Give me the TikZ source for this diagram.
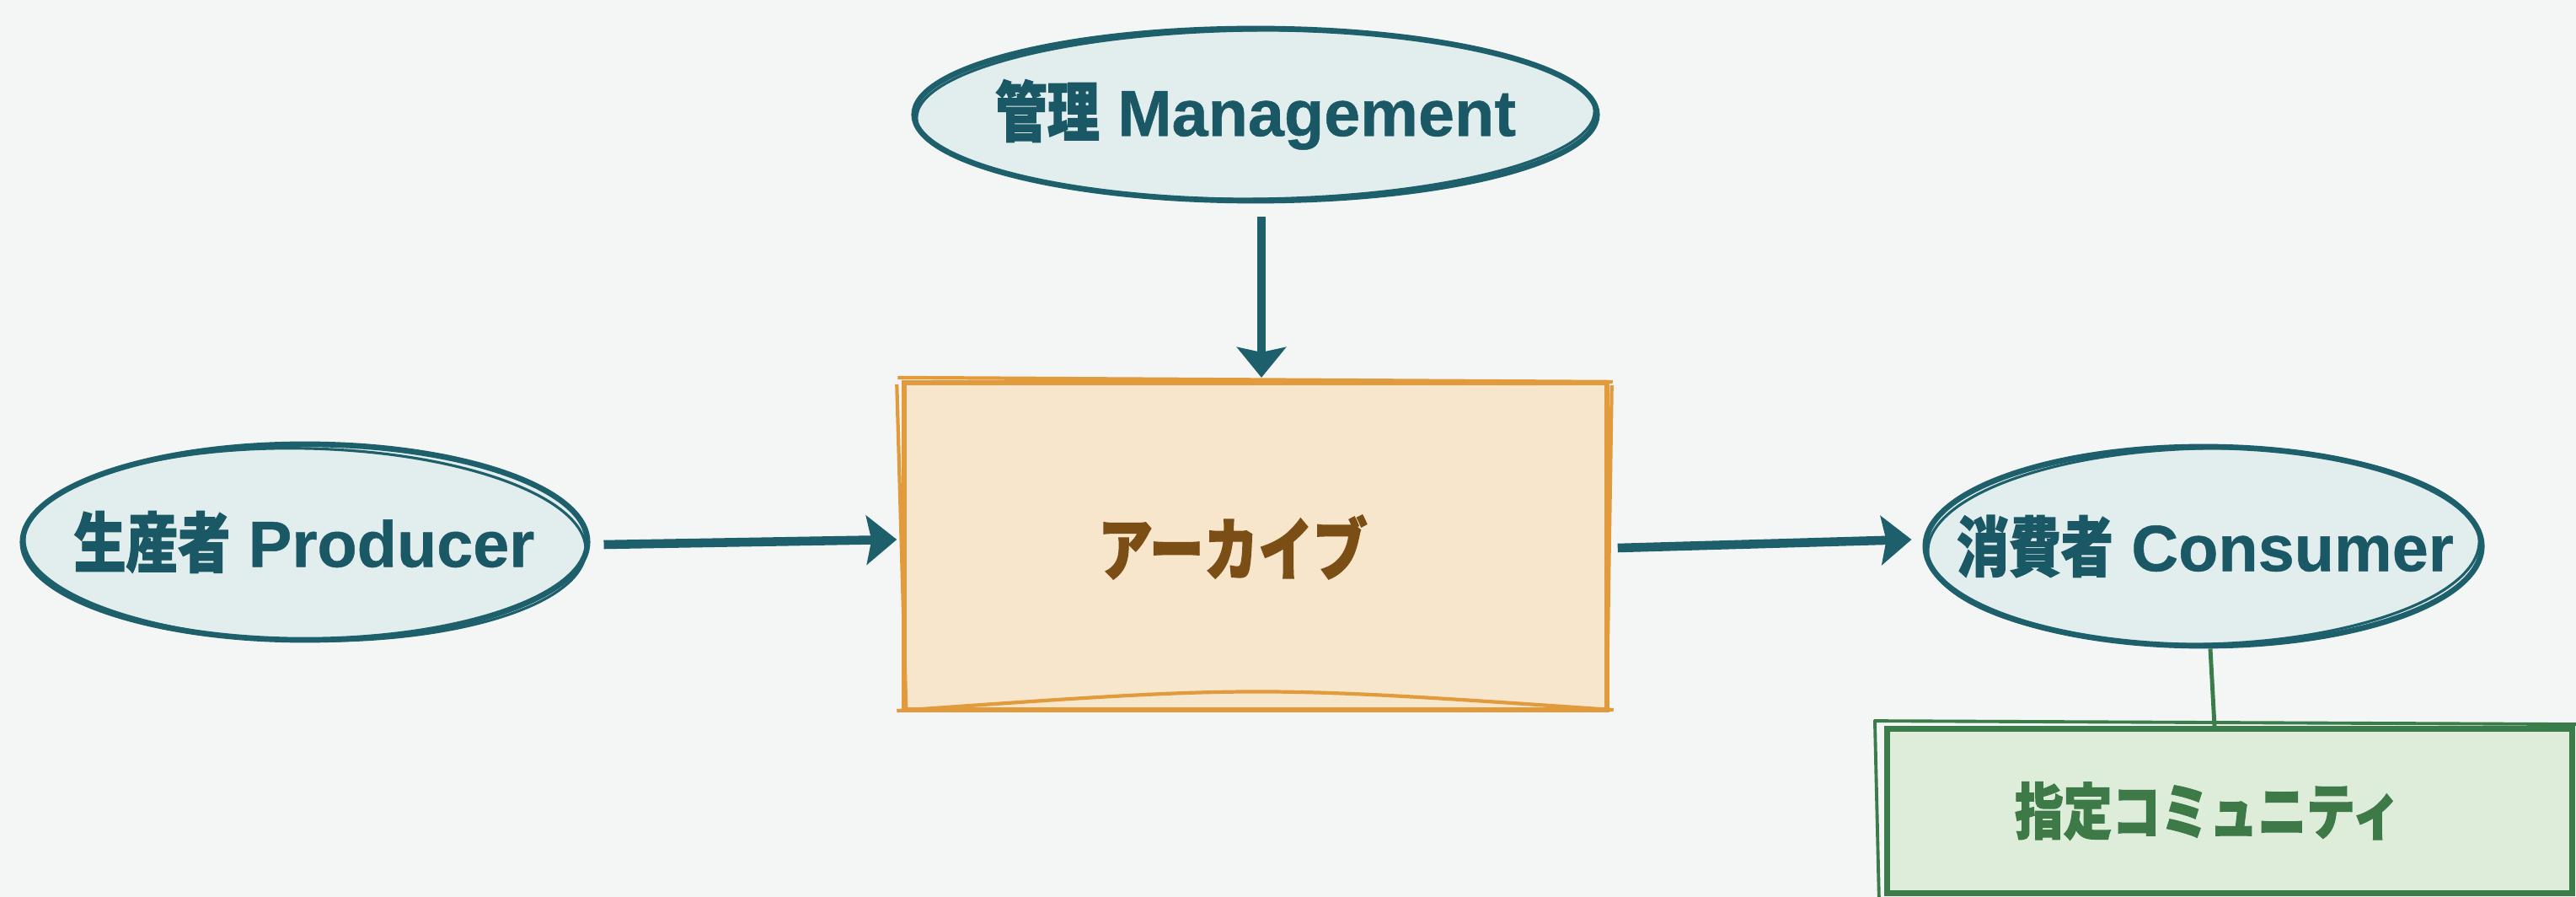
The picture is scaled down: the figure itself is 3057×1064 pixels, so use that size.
\documentclass[tikz,border=0pt]{standalone}
\usepackage{fontspec}
\setmainfont{Liberation Sans}[BoldFeatures={FakeBold=0.6}]
\newfontfamily\cjk{Noto Sans CJK JP}[FakeStretch=0.8, FakeBold=1.6]
\usetikzlibrary{shapes.geometric,arrows.meta}
\definecolor{bg}{HTML}{F4F6F5}
\definecolor{tealS}{HTML}{1D5F6B}
\definecolor{tealT}{HTML}{1B5866}
\definecolor{tealF}{HTML}{E2EDED}
\definecolor{orS}{HTML}{E29B3C}
\definecolor{orF}{HTML}{F8E6CC}
\definecolor{orT}{HTML}{7A4E14}
\definecolor{grS}{HTML}{3B7D4A}
\definecolor{grF}{HTML}{DDEDDA}
\definecolor{grT}{HTML}{3E7A48}
\tikzset{
  actor/.style={ellipse, draw=tealS, fill=tealF, line width=1.9pt, inner sep=0pt},
  actortext/.style={text=tealT, inner sep=0pt, font=\bfseries\fontsize{22}{26}\selectfont},
  actorsk/.style={draw=tealS, line width=0.9pt},
  archbox/.style={rectangle, draw=orS, fill=orF, line width=1.7pt, inner sep=0pt},
  archtext/.style={text=orT, inner sep=0pt, font=\bfseries\fontsize{23}{27}\selectfont},
  archsk/.style={draw=orS, line width=1.2pt},
  commbox/.style={rectangle, draw=grS, fill=grF, line width=1.9pt, inner sep=0pt},
  commtext/.style={text=grT, inner sep=0pt, font=\bfseries\fontsize{20.5}{24}\selectfont},
  commsk/.style={draw=grS, line width=1.1pt},
  flow/.style={draw=tealS, line width=3pt,
    -{Stealth[length=0.36cm, width=0.58cm, inset=0.06cm]}},
  link/.style={draw=grS, line width=1.4pt},
}
\begin{document}
\begin{tikzpicture}[x=0.01cm, y=-0.01cm]
\fill[bg] (0,0) rectangle (3057,1064);
\useasboundingbox (0,0) rectangle (3057,1064);

% shapes
\node[actor, minimum width=8.1cm, minimum height=2.04cm] (mgmt) at (1490,136) {};
\node[archbox, minimum width=8.33cm, minimum height=3.88cm] (arch) at (1490,648) {};
\node[actor, minimum width=6.7cm, minimum height=2.32cm] (prod) at (362,643) {};
\node[actor, minimum width=6.6cm, minimum height=2.36cm] (cons) at (2615,648) {};
\node[commbox, minimum width=8.13cm, minimum height=1.95cm] (comm) at (2646,962) {};

% sketch strokes
\draw[actorsk] (mgmt.center) ellipse[x radius=4.02cm, y radius=1.0cm, rotate=0.6];
\draw[actorsk] ([yshift=-0.03cm]prod.center) ellipse[x radius=3.33cm, y radius=1.14cm, rotate=-1.2];
\draw[actorsk] (cons.center) ellipse[x radius=3.27cm, y radius=1.16cm, rotate=1.2];
\draw[archsk] ([xshift=-0.05cm,yshift=0.03cm]arch.north west) -- ([xshift=0.04cm,yshift=-0.02cm]arch.north east);
\draw[archsk] ([xshift=0.05cm,yshift=0.05cm]arch.south west) -- ([xshift=-0.06cm,yshift=-0.05cm]arch.north west);
\draw[archsk] ([xshift=-0.06cm,yshift=0.02cm]arch.south west) .. controls ([yshift=0.32cm]arch.south) .. ([xshift=0.05cm,yshift=0.03cm]arch.south east);
\draw[archsk] ([xshift=0.03cm,yshift=-0.06cm]arch.north east) -- ([xshift=-0.03cm,yshift=0.04cm]arch.south east);
\draw[commsk] ([xshift=-0.12cm,yshift=0.06cm]comm.north west) -- ([xshift=0.03cm,yshift=0.02cm]comm.north east);
\draw[commsk] ([xshift=-0.11cm,yshift=0.07cm]comm.north west) -- ([xshift=-0.06cm,yshift=-0.05cm]comm.south west);

% labels
\node[actortext] (mgmtlabel) at (1490,136) {{\cjk 管理} Management};
\node[actortext] (prodlabel) at (361,643) {{\cjk 生産者} Producer};
\node[actortext] (conslabel) at (2617,648) {{\cjk 消費者} Consumer};
\node[archtext] (archlabel) at (1463,649) {\cjk アーカイブ};
\node[commtext] (commlabel) at (2620,962) {\cjk 指定コミュニティ};

% connectors
\draw[flow] ([xshift=0.07cm,yshift=-0.16cm]mgmt.south) -- ([xshift=0.07cm,yshift=0.03cm]arch.north);
\draw[flow] ([xshift=0.16cm,yshift=-0.03cm]prod.east) -- ([xshift=-0.06cm,yshift=0.08cm]arch.west);
\draw[flow] ([xshift=0.10cm,yshift=-0.02cm]arch.east) -- ([xshift=-0.13cm,yshift=0.08cm]cons.west);
\draw[link] ([xshift=0.08cm]cons.south) -- ([xshift=-0.18cm]comm.north);
\end{tikzpicture}
\end{document}
